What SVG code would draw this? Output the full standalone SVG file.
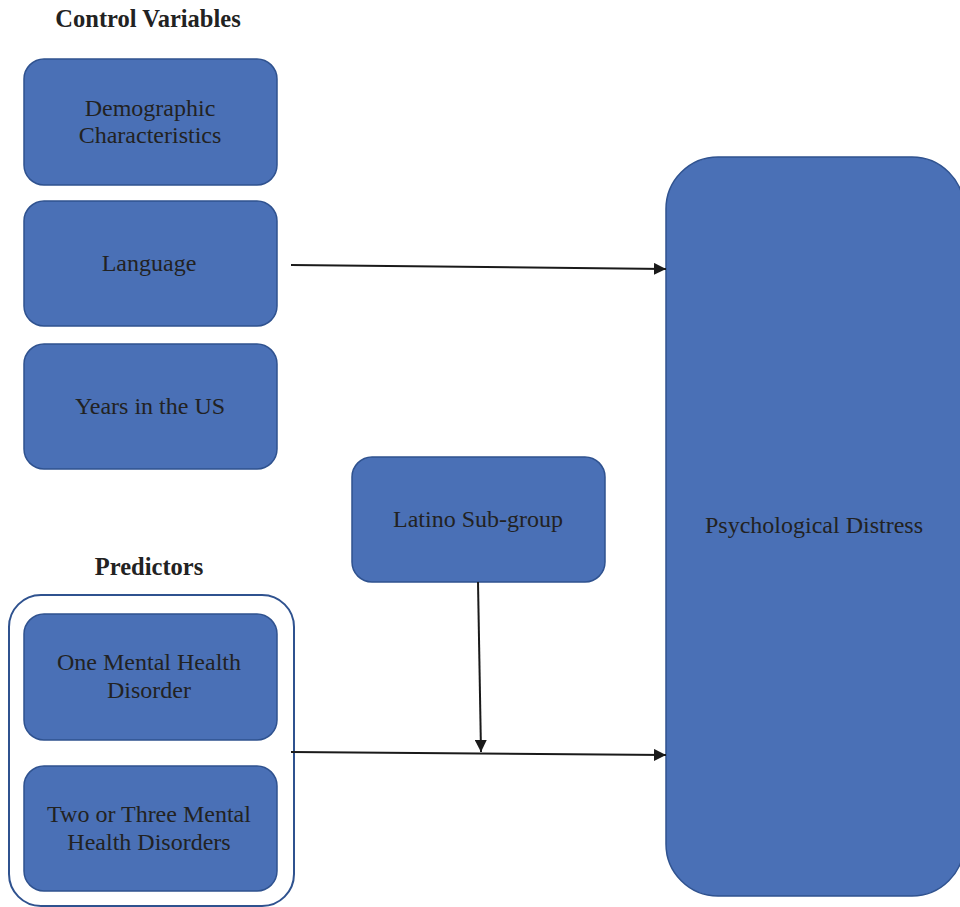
<svg xmlns="http://www.w3.org/2000/svg" width="960" height="907" viewBox="0 0 960 907">
<style>
.box{fill:#4a70b6;stroke:#2f528f;stroke-width:1.5}
.t{font-family:"Liberation Serif",serif;font-size:24px;fill:#222;text-anchor:middle}
.h{font-family:"Liberation Serif",serif;font-size:24.5px;font-weight:bold;fill:#222;text-anchor:middle}
.c{stroke:#1a1a1a;stroke-width:2;fill:none;marker-end:url(#ah)}
</style>
<defs>
<marker id="ah" viewBox="0 0 10 10" refX="10" refY="5" markerWidth="6" markerHeight="6" orient="auto" markerUnits="strokeWidth">
<path d="M0,0 L10,5 L0,10 z" fill="#1a1a1a"/>
</marker>
</defs>
<rect width="960" height="907" fill="#fff"/>
<text class="h" x="148" y="27">Control Variables</text>
<text class="h" x="149" y="575">Predictors</text>
<g id="predictors-group">
<rect x="9" y="595" width="285" height="311" rx="32" fill="none" stroke="#2f528f" stroke-width="2"/>
</g>
<g id="demographic">
<rect class="box" x="24" y="59" width="253" height="126" rx="20"/>
<text class="t" x="150" y="116">Demographic</text>
<text class="t" x="150" y="143">Characteristics</text>
</g>
<g id="language">
<rect class="box" x="24" y="201" width="253" height="125" rx="20"/>
<text class="t" x="149" y="271">Language</text>
</g>
<g id="years">
<rect class="box" x="24" y="344" width="253" height="125" rx="20"/>
<text class="t" x="150" y="414">Years in the US</text>
</g>
<g id="latino">
<rect class="box" x="352" y="457" width="253" height="125" rx="20"/>
<text class="t" x="478" y="527">Latino Sub-group</text>
</g>
<g id="distress">
<rect class="box" x="666" y="157" width="298" height="739" rx="52"/>
<text class="t" x="814" y="533">Psychological Distress</text>
</g>
<g id="one-disorder">
<rect class="box" x="24" y="614" width="253" height="126" rx="20"/>
<text class="t" x="149" y="670">One Mental Health</text>
<text class="t" x="149" y="698">Disorder</text>
</g>
<g id="two-disorders">
<rect class="box" x="24" y="766" width="253" height="125" rx="20"/>
<text class="t" x="149" y="822">Two or Three Mental</text>
<text class="t" x="149" y="850">Health Disorders</text>
</g>
<g id="connectors">
<path class="c" d="M291,265 L666,269"/>
<path class="c" d="M291,752 L666,755"/>
<path class="c" d="M478,582 L481,752"/>
</g>
</svg>
